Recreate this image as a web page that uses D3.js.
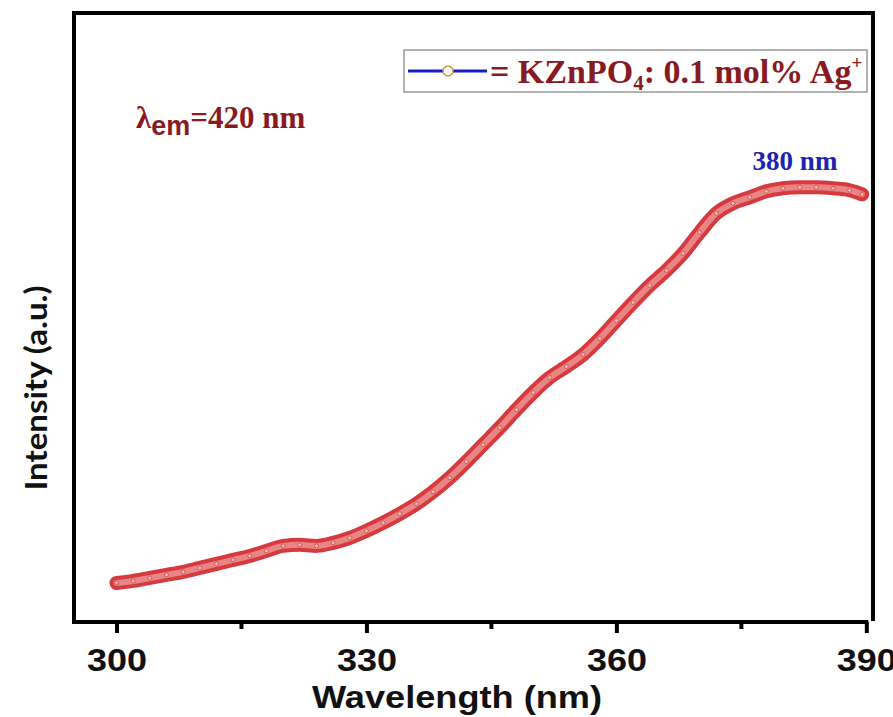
<!DOCTYPE html>
<html>
<head>
<meta charset="utf-8">
<script src="https://cdn.jsdelivr.net/npm/d3@7"></script>
<style>
  body { margin: 0; background: #fff; }
  svg { display: block; }
</style>
</head>
<body>
<div id="chart"></div>
<script>
// excitation spectrum
const wavelengths = [300, 302, 304, 306, 308, 310, 312, 314, 316, 318, 320, 322, 324, 326, 328,
    330, 332, 334, 336, 338, 340, 342, 344, 346, 348, 350, 352, 354, 356, 358,
    360, 362, 364, 366, 368, 370, 372, 374, 376, 378, 380, 382, 384, 386, 388, 389.5];
const intensity = [39, 41, 44, 47, 50, 54, 58, 62, 66, 71, 76, 77, 76, 79, 84,
    91, 99, 108, 118, 130, 144, 160, 177, 194, 212, 229, 244, 255, 267, 283,
    301, 319, 336, 351, 368, 389, 408, 418, 424, 430, 433, 434, 434, 433, 431, 427];
const majorTicks = [300, 330, 360, 390];
const minorTicks = [315, 345, 375];
const seriesLabel = "KZnPO";

const W = 893, H = 717;
const _margin = { top: 13, right: 20, bottom: 95, left: 74 };

let svg = d3.select("#chart").append("svg")
    .attr("width", W)
    .attr("height", H);

let x = d3.scaleLinear().domain([294.9, 390.8]).range([_margin.left, W - _margin.right]);
let y = d3.scaleLinear().domain([0, 608]).range([H - _margin.bottom, _margin.top]);

let data = wavelengths.map((w, i) => ({ w: w, v: intensity[i] }));

// frame
let x0 = _margin.left, x1 = W - _margin.right, y0 = _margin.top, y1 = H - _margin.bottom;
svg.append("path")
    .attr("d", `M${x0},${y1} L${x0},${y0} L${x1},${y0} L${x1},${y1 - 1}`)
    .attr("fill", "none")
    .attr("stroke", "#000")
    .attr("stroke-width", 4);

// bottom axis
let xAxis = svg.append("g")
    .attr("class", "x-axis")
    .attr("transform", `translate(0,${y1})`)
    .call(d3.axisBottom(x).tickValues(majorTicks).tickSize(11).tickPadding(16).tickFormat(d3.format("d")));
xAxis.select(".domain").attr("stroke-width", 4).attr("d", `M${x0 - 2},0H${x(390) + 2}`);
xAxis.selectAll(".tick line").attr("stroke-width", 4);
xAxis.selectAll(".tick text")
    .attr("font-family", "Liberation Sans, Arial, sans-serif")
    .attr("font-size", 31)
    .attr("font-weight", "bold")
    .attr("textLength", 60)
    .attr("lengthAdjust", "spacingAndGlyphs")
    .attr("fill", "#111");
svg.selectAll(".minor")
    .data(minorTicks)
    .enter()
    .append("line")
    .attr("class", "minor")
    .attr("x1", d => x(d)).attr("x2", d => x(d))
    .attr("y1", y1).attr("y2", y1 + 7)
    .attr("stroke", "#000")
    .attr("stroke-width", 4);

// axis titles
svg.append("text")
    .attr("x", 457)
    .attr("y", 708)
    .attr("text-anchor", "middle")
    .attr("font-family", "Liberation Sans, Arial, sans-serif")
    .attr("font-size", 31)
    .attr("font-weight", "bold")
    .attr("textLength", 290)
    .attr("lengthAdjust", "spacingAndGlyphs")
    .attr("fill", "#111")
    .text("Wavelength (nm)");

svg.append("text")
    .attr("transform", "translate(47,388) rotate(-90)")
    .attr("text-anchor", "middle")
    .attr("font-family", "Lato, Open Sans, sans-serif")
    .attr("font-size", 31)
    .attr("font-weight", "bold")
    .attr("textLength", 205)
    .attr("lengthAdjust", "spacingAndGlyphs")
    .attr("fill", "#111")
    .text("Intensity (a.u.)");

// curve: thick band of markers
const line = d3.line().x(d => x(d.w)).y(d => y(d.v)).curve(d3.curveMonotoneX);
svg.append("path")
    .datum(data)
    .attr("d", line)
    .attr("fill", "none")
    .attr("stroke", "#d63a3e")
    .attr("stroke-width", 14)
    .attr("stroke-linecap", "round");
svg.append("path")
    .datum(data)
    .attr("d", line)
    .attr("fill", "none")
    .attr("stroke", "#e98585")
    .attr("stroke-width", 6)
    .attr("stroke-linecap", "round");
svg.selectAll(".pt")
    .data(data)
    .enter()
    .append("circle")
    .attr("class", "pt")
    .attr("cx", d => x(d.w))
    .attr("cy", d => y(d.v))
    .attr("r", 2)
    .attr("fill", "#f4b8b0")
    .attr("stroke", "#c84a4a")
    .attr("stroke-width", 0.8);

// legend
let lg = svg.append("g");
lg.append("rect")
    .attr("x", 404).attr("y", 50).attr("width", 463).attr("height", 42)
    .attr("fill", "#fff")
    .attr("stroke", "#999")
    .attr("stroke-width", 1.5);
lg.append("line")
    .attr("x1", 408).attr("x2", 487).attr("y1", 71).attr("y2", 71)
    .attr("stroke", "#1a1ad0").attr("stroke-width", 3);
lg.append("circle")
    .attr("cx", 448).attr("cy", 71).attr("r", 5)
    .attr("fill", "#fff").attr("stroke", "#d09040").attr("stroke-width", 1.5);
let lt = lg.append("text")
    .attr("x", 490).attr("y", 83)
    .attr("font-family", "Liberation Serif, Times New Roman, serif")
    .attr("font-size", 34)
    .attr("font-weight", "bold")
    .attr("fill", "#8a1a22");
lt.append("tspan").text("= " + seriesLabel);
lt.append("tspan").attr("font-size", 21).attr("dy", 7).text("4");
lt.append("tspan").attr("dy", -7).text(": 0.1 mol% Ag");
lt.append("tspan").attr("font-size", 19).attr("dy", -14).text("+");

// annotations
let ann = svg.append("text")
    .attr("x", 136).attr("y", 128)
    .attr("font-family", "Liberation Serif, Times New Roman, serif")
    .attr("font-size", 31)
    .attr("font-weight", "bold")
    .attr("fill", "#8a1a22");
ann.append("tspan").text("λ");
ann.append("tspan").attr("font-family", "Liberation Sans, Arial, sans-serif").attr("font-size", 27).attr("dy", 7).text("em");
ann.append("tspan").attr("dy", -7).text("=420 nm");

svg.append("text")
    .attr("x", 795).attr("y", 170)
    .attr("text-anchor", "middle")
    .attr("font-family", "Liberation Serif, Times New Roman, serif")
    .attr("font-size", 27)
    .attr("font-weight", "bold")
    .attr("fill", "#1c24b0")
    .text("380 nm");
</script>
</body>
</html>
